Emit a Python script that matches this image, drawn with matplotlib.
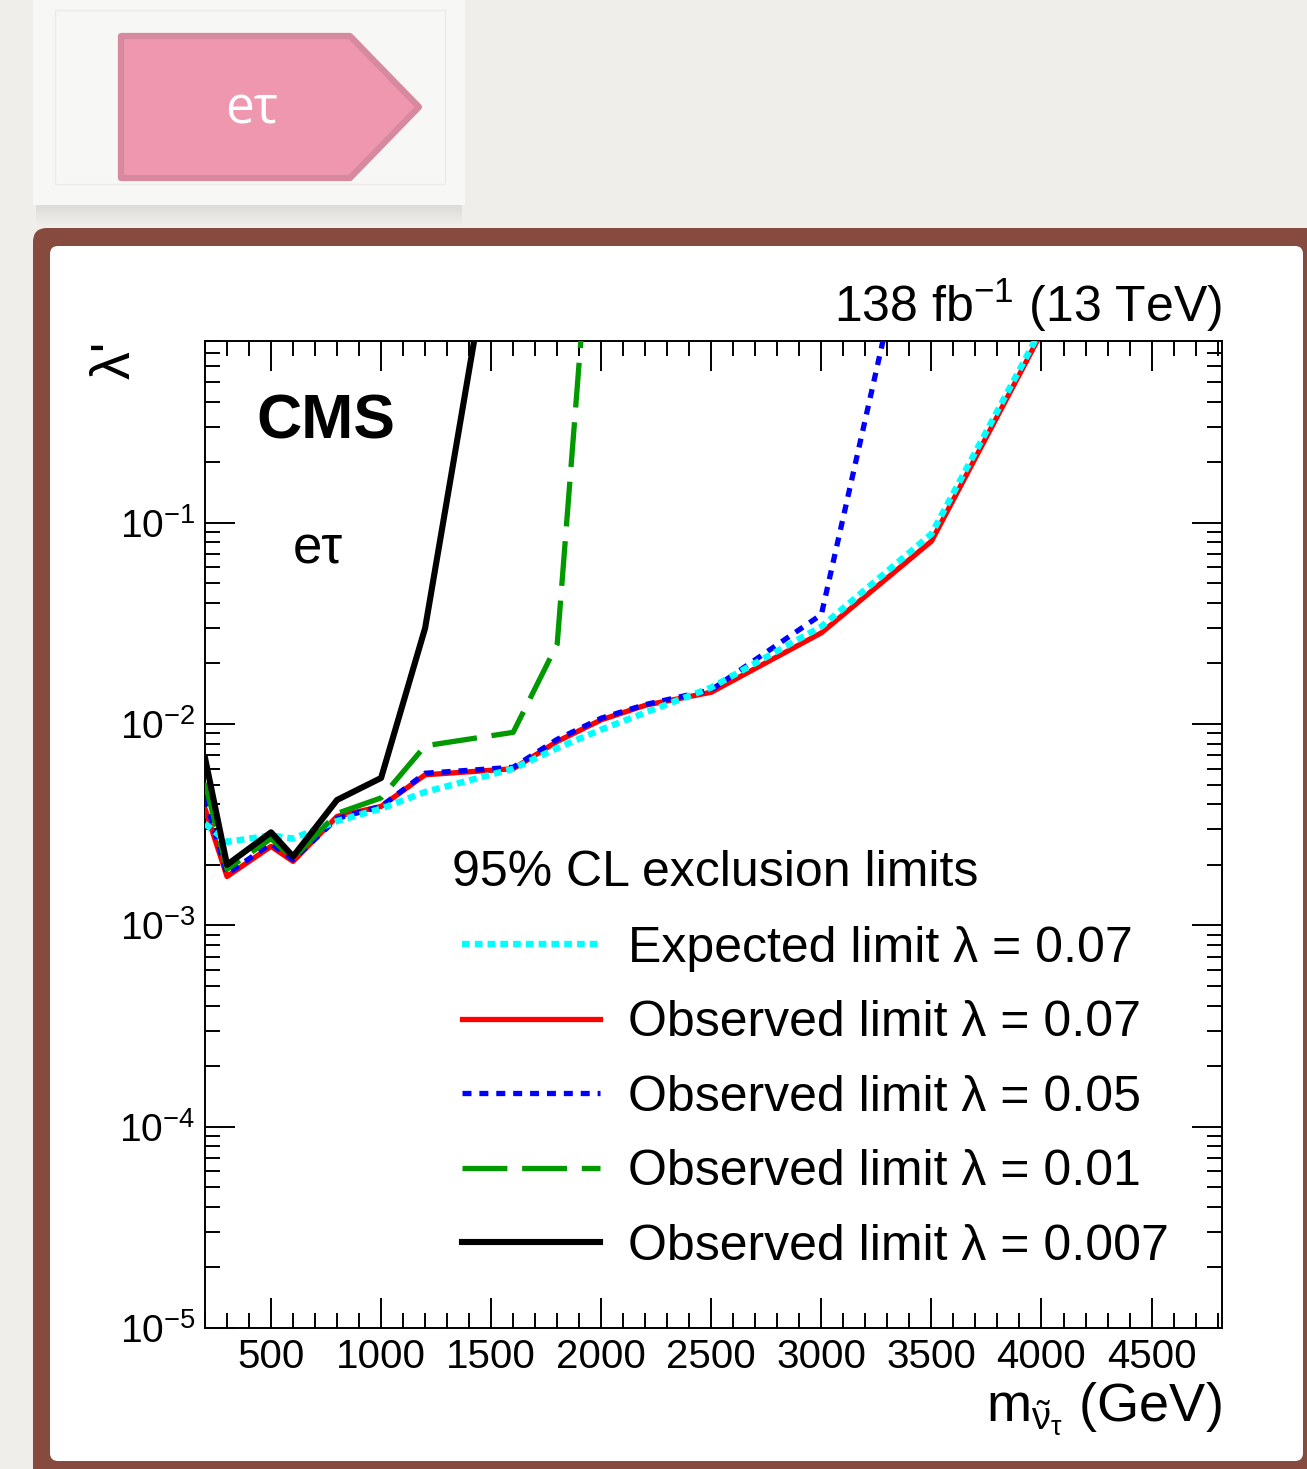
import numpy as np
import matplotlib
matplotlib.use("Agg")
import matplotlib.pyplot as plt
from matplotlib.patches import FancyBboxPatch, Polygon, Rectangle
from matplotlib.ticker import MultipleLocator, LogLocator, NullFormatter

plt.rcParams['font.family'] = ['Liberation Sans', 'DejaVu Sans']
plt.rcParams['mathtext.fontset'] = 'custom'
plt.rcParams['mathtext.rm'] = 'Liberation Sans'
plt.rcParams['mathtext.it'] = 'Liberation Sans:italic'
plt.rcParams['mathtext.bf'] = 'Liberation Sans:bold'
plt.rcParams['mathtext.default'] = 'regular'

# ---------------- limits on lambda' versus sneutrino mass (GeV) ----------------
mass_full = [200, 300, 500, 600, 800, 1000, 1200, 1600, 1800, 2000, 2200, 2500, 3000, 3500, 4000]
expected_007 = [0.0032, 0.0026, 0.0028, 0.0027, 0.0033, 0.0038, 0.0046, 0.0060, 0.0076,
                0.0094, 0.0114, 0.0152, 0.0305, 0.088, 0.92]
observed_007 = [0.0038, 0.00175, 0.00247, 0.00208, 0.00348, 0.0039, 0.0056, 0.0060, 0.0082,
                0.0105, 0.0124, 0.0144, 0.0284, 0.081, 0.88]

mass_005 = [200, 300, 500, 600, 800, 1000, 1200, 1600, 1800, 2000, 2200, 2500, 3000, 3500]
observed_005 = [0.0043, 0.0018, 0.00255, 0.00212, 0.0034, 0.0039, 0.0057, 0.0061, 0.0084,
                0.0107, 0.0125, 0.0148, 0.035, 9.4]

mass_001 = [200, 300, 500, 600, 800, 1000, 1200, 1600, 1800, 2000]
observed_001 = [0.0051, 0.0019, 0.0027, 0.00215, 0.0036, 0.0043, 0.0078, 0.0091, 0.025, 16.0]

mass_0007 = [200, 300, 500, 600, 800, 1000, 1200, 1600]
observed_0007 = [0.0068, 0.0020, 0.0029, 0.0022, 0.0042, 0.0054, 0.030, 11.0]

legend_title = "95% CL exclusion limits"
legend_labels = ["Expected limit λ = 0.07", "Observed limit λ = 0.07",
                 "Observed limit λ = 0.05", "Observed limit λ = 0.01",
                 "Observed limit λ = 0.007"]

W, H = 1307, 1469
fig = plt.figure(figsize=(W / 100, H / 100), dpi=100)
fig.patch.set_facecolor('#efeeeb')

# ---------------- slide decoration (pixel coordinates) ----------------
bg = fig.add_axes([0, 0, 1, 1])
bg.set_xlim(0, W)
bg.set_ylim(H, 0)
bg.axis('off')

# soft shadow under the title card
shade = np.linspace(0.16, 0.0, 40).reshape(-1, 1)
shade_rgba = np.zeros((40, 1, 4))
shade_rgba[..., :3] = 0.45
shade_rgba[..., 3] = shade
bg.imshow(shade_rgba, extent=[36, 462, 226, 203], aspect='auto', interpolation='bilinear', zorder=1)

bg.add_patch(Rectangle((33, -10), 432, 215, facecolor='#f7f7f5', edgecolor='none', zorder=2))
bg.add_patch(Rectangle((55, 10), 390, 174, facecolor='none', edgecolor='#ebebe8', lw=1, zorder=3))

arrow = Polygon([(121, 36), (350, 36), (419, 107), (350, 178), (121, 178)], closed=True,
                facecolor='#ef97ae', edgecolor='#d78a9f', lw=4.5, joinstyle='round', zorder=4)
bg.add_patch(arrow)
bg.text(252, 110, "eτ", color='white', fontsize=37, family=['Open Sans', 'DejaVu Sans'],
        ha='center', va='center', zorder=5)

# brown hand-drawn frame around the chart panel
bg.add_patch(FancyBboxPatch((33, 228), W - 33 + 30, H - 228 + 30,
                            boxstyle="round,pad=0,rounding_size=14",
                            facecolor='#874a3e', edgecolor='none', zorder=2))
bg.add_patch(FancyBboxPatch((50, 246), 1303 - 50, 1461 - 246,
                            boxstyle="round,pad=0,rounding_size=8",
                            facecolor='white', edgecolor='none', zorder=3))

# ---------------- the limit plot ----------------
ax = fig.add_axes([205 / W, 1 - 1328 / H, (1222 - 205) / W, (1328 - 341) / H])
ax.set_facecolor('white')

l_red, = ax.plot(mass_full, observed_007, color='#ff0000', lw=3.8, zorder=3)
l_blue, = ax.plot(mass_005, observed_005, color='#0000ff', lw=3.8, ls=(0, (1.7, 1.5)), zorder=4)
l_cyan, = ax.plot(mass_full, expected_007, color='#00ffff', lw=4.6, ls=(0, (1.2, 0.8)), zorder=5)
l_green, = ax.plot(mass_001, observed_001, color='#009900', lw=3.8, ls=(0, (8.5, 2.8)), zorder=6)
l_black, = ax.plot(mass_0007, observed_0007, color='black', lw=4.4, zorder=7)

ax.set_yscale('log')
ax.set_xlim(200, 4820)
ax.set_ylim(1e-5, 0.8)

ax.xaxis.set_major_locator(MultipleLocator(500))
ax.xaxis.set_minor_locator(MultipleLocator(100))
ax.yaxis.set_major_locator(LogLocator(base=10, numticks=20))
ax.yaxis.set_minor_locator(LogLocator(base=10, subs=np.arange(2, 10), numticks=20))
ax.yaxis.set_minor_formatter(NullFormatter())

ax.tick_params(which='both', direction='in', top=True, right=True, width=1.4, color='black')
ax.tick_params(which='major', length=21.5)
ax.tick_params(which='minor', length=10.8)
ax.tick_params(axis='x', which='major', pad=7, labelsize=29)
ax.tick_params(axis='y', which='major', pad=7, labelsize=28)
for sp in ax.spines.values():
    sp.set_linewidth(1.4)

ax.set_xlabel(r"m$_{\tilde{\nu}_{\tau}}$ (GeV)", fontsize=39, loc='right')
ax.xaxis.set_label_coords(1.0, -0.053)
ax.set_ylabel("λ'", fontsize=40, loc='top')
ax.yaxis.set_label_coords(-0.062, 1.0)

ax.text(0.051, 0.9017, "CMS", transform=ax.transAxes, fontsize=45, fontweight='bold',
        ha='left', va='baseline')
ax.text(0.0865, 0.775, "eτ", transform=ax.transAxes, fontsize=38, ha='left', va='baseline')
ax.text(1.0, 1.019, r"138 fb$^{-1}$ (13 TeV)", transform=ax.transAxes, fontsize=36,
        ha='right', va='baseline')

ax.text(0.2429, 0.4605, legend_title, transform=ax.transAxes, fontsize=36,
        ha='left', va='center')
ax.legend(handles=[l_cyan, l_red, l_blue, l_green, l_black], labels=legend_labels,
          fontsize=36, loc='upper left', bbox_to_anchor=(0.2527, 0.4074), frameon=False,
          handlelength=2.76, handletextpad=0.56, labelspacing=0.57,
          borderpad=0, borderaxespad=0)

fig.savefig("out.png", dpi=100, facecolor=fig.get_facecolor())
